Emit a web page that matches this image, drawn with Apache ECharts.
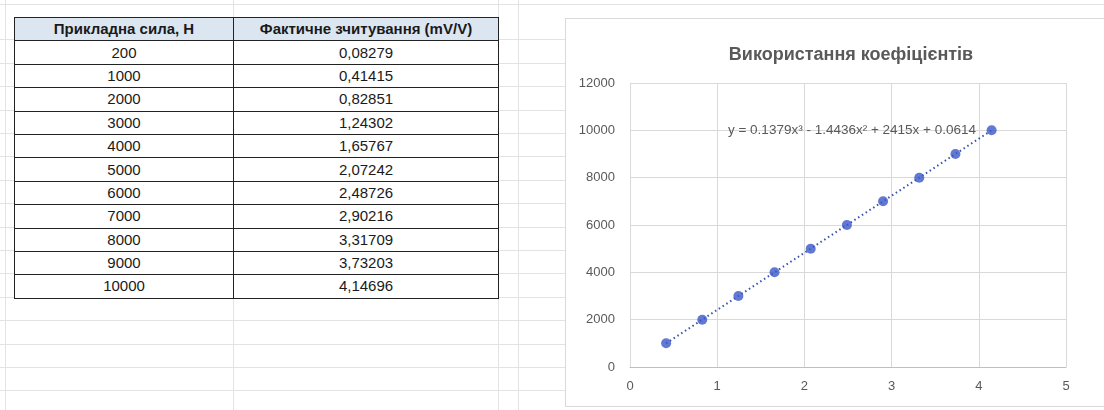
<!DOCTYPE html>
<html>
<head>
<meta charset="utf-8">
<script src="https://cdn.jsdelivr.net/npm/echarts@6/dist/echarts.min.js"></script>
<style>
  html, body { margin:0; padding:0; width:1104px; height:410px; overflow:hidden; background:#fff; }
  #sheet { position:absolute; left:0; top:0; width:1104px; height:410px;
    background-image:
      repeating-linear-gradient(to bottom, transparent 0, transparent 22.4px, #e3e3e3 22.4px, #e3e3e3 23.4px);
    background-position: 0 17px;
  }
  .vline { position:absolute; top:0; width:1px; height:410px; background:#e3e3e3; }
  table { position:absolute; left:14px; top:17px; border-collapse:collapse; font-family:"Liberation Sans", Arial, sans-serif; font-size:15px; color:#1a1a1a; background:#fff; }
  td, th { border:1px solid #222; height:22.4px; padding:0; text-align:center; line-height:22px; }
  th { background:#dce6f1; font-weight:bold; font-size:15px; }
  td.c1, th.c1 { width:218px; }
  td.c2, th.c2 { width:264px; }
  #frame { position:absolute; left:565px; top:18px; width:560px; height:387px; border:1px solid #d9d9d9; background:#fff; }
  #chart { position:absolute; left:566px; top:19px; width:538px; height:386px; }
</style>
</head>
<body>
<div id="sheet"></div>
<div class="vline" style="left:5px"></div>
<div class="vline" style="left:233px"></div>
<div class="vline" style="left:498px"></div>
<div class="vline" style="left:518px"></div>
<table id="tbl"></table>
<div id="frame"></div>
<div id="chart"></div>
<script>
const headers = ["Прикладна сила, Н", "Фактичне зчитування (mV/V)"];
const forces = [200, 1000, 2000, 3000, 4000, 5000, 6000, 7000, 8000, 9000, 10000];
const readings = ["0,08279", "0,41415", "0,82851", "1,24302", "1,65767", "2,07242", "2,48726", "2,90216", "3,31709", "3,73203", "4,14696"];
const chartX = [0.41415, 0.82851, 1.24302, 1.65767, 2.07242, 2.48726, 2.90216, 3.31709, 3.73203, 4.14696];
const chartY = [1000, 2000, 3000, 4000, 5000, 6000, 7000, 8000, 9000, 10000];
const chartTitle = "Використання коефіцієнтів";
const equation = "y = 0.1379x³ - 1.4436x² + 2415x + 0.0614";

// table
const tbl = document.getElementById('tbl');
let html = '<tr><th class="c1">' + headers[0] + '</th><th class="c2">' + headers[1] + '</th></tr>';
for (let i = 0; i < forces.length; i++) {
  html += '<tr><td class="c1">' + forces[i] + '</td><td class="c2">' + readings[i] + '</td></tr>';
}
tbl.innerHTML = html;

const pts = chartX.map((x, i) => [x, chartY[i]]);
const chart = echarts.init(document.getElementById('chart'), null, { renderer: 'canvas' });
const labelStyle = { color: '#595959', fontSize: 13, fontFamily: '"Liberation Sans", Arial, sans-serif' };
chart.setOption({
  animation: false,
  backgroundColor: '#fff',
  grid: { left: 64, right: 38, top: 64, bottom: 38, containLabel: false },
  xAxis: {
    type: 'value', min: 0, max: 5, interval: 1,
    axisLine: { show: true, lineStyle: { color: '#bfbfbf' } },
    axisTick: { show: false },
    axisLabel: Object.assign({ margin: 13, formatter: v => String(v) }, labelStyle),
    splitLine: { show: true, lineStyle: { color: '#d9d9d9' } }
  },
  yAxis: {
    type: 'value', min: 0, max: 12000, interval: 2000,
    axisLine: { show: false },
    axisTick: { show: false },
    axisLabel: Object.assign({ margin: 15, formatter: v => String(v) }, labelStyle),
    splitLine: { show: true, lineStyle: { color: '#d9d9d9' } }
  },
  graphic: [
    { type: 'text', x: 285, y: 36, style: { text: chartTitle, align: 'center', verticalAlign: 'middle', fill: '#595959', font: 'bold 18px "Liberation Sans", Arial, sans-serif' } },
    { type: 'text', x: 286, y: 111, z: 10, style: { text: equation, align: 'center', verticalAlign: 'middle', fill: '#595959', font: '13.5px "Liberation Sans", Arial, sans-serif' } }
  ],
  series: [
    {
      type: 'line', data: pts, showSymbol: false, symbol: 'none', silent: true,
      lineStyle: { color: '#3552b0', width: 2, type: [1.5, 3] }, z: 2
    },
    {
      type: 'scatter', data: pts, symbol: 'circle', symbolSize: 10,
      itemStyle: { color: '#3a58c8' }, z: 3
    }
  ]
});
</script>
</body>
</html>
